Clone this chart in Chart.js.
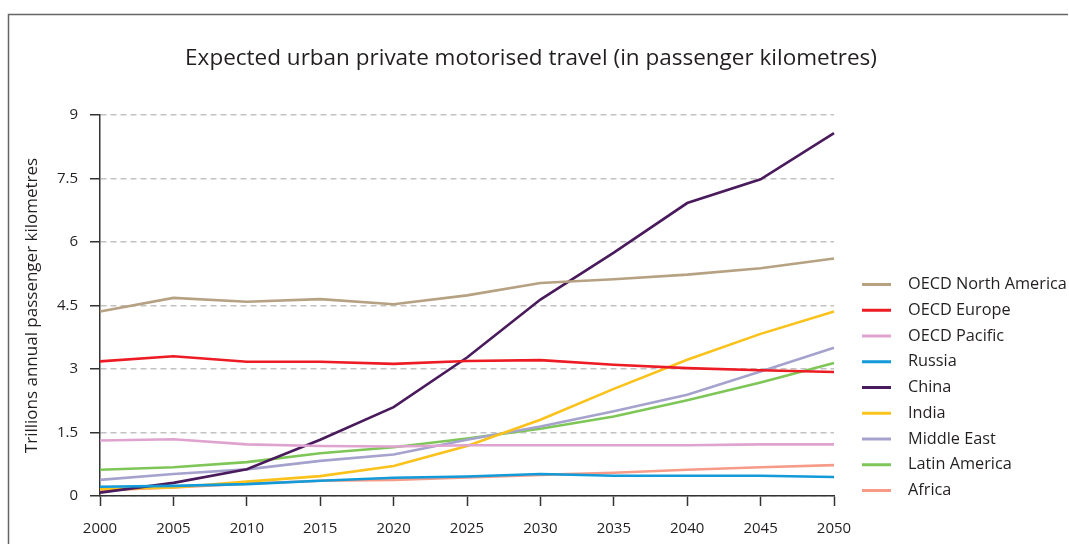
<!DOCTYPE html>
<html><head><meta charset="utf-8">
<script src="https://cdn.jsdelivr.net/npm/chart.js@4"></script>
<style>html,body{margin:0;padding:0;background:#fff;} canvas{display:block;}</style>
</head><body>
<canvas id="c" width="1069" height="544"></canvas>
<script>
// ---- data ----
const years = ['2000','2005','2010','2015','2020','2025','2030','2035','2040','2045','2050'];
const oecdNorthAmerica = [4.36, 4.68, 4.59, 4.65, 4.53, 4.74, 5.03, 5.12, 5.23, 5.38, 5.61];
const oecdEurope       = [3.18, 3.30, 3.17, 3.17, 3.12, 3.19, 3.21, 3.10, 3.02, 2.97, 2.93];
const oecdPacific      = [1.31, 1.34, 1.22, 1.18, 1.17, 1.20, 1.20, 1.20, 1.20, 1.22, 1.22];
const russia           = [0.22, 0.24, 0.28, 0.36, 0.43, 0.46, 0.52, 0.48, 0.48, 0.48, 0.45];
const china            = [0.08, 0.31, 0.63, 1.33, 2.10, 3.27, 4.64, 5.75, 6.92, 7.48, 8.57];
const india            = [0.16, 0.20, 0.34, 0.47, 0.71, 1.18, 1.80, 2.53, 3.22, 3.83, 4.36];
const middleEast       = [0.38, 0.52, 0.63, 0.83, 0.98, 1.33, 1.64, 2.00, 2.39, 2.94, 3.50];
const latinAmerica     = [0.62, 0.68, 0.80, 1.01, 1.15, 1.36, 1.59, 1.88, 2.26, 2.68, 3.14];
const africa           = [0.13, 0.20, 0.29, 0.36, 0.38, 0.44, 0.50, 0.55, 0.62, 0.68, 0.73];
const seriesNames = ['OECD North America','OECD Europe','OECD Pacific','Russia','China','India','Middle East','Latin America','Africa'];
const seriesValues = [oecdNorthAmerica, oecdEurope, oecdPacific, russia, china, india, middleEast, latinAmerica, africa];
const yTicks = [0, 1.5, 3, 4.5, 6, 7.5, 9];
const chartTitle = 'Expected urban private motorised travel (in passenger kilometres)';
const yAxisTitle = 'Trillions annual passenger kilometres';

// ---- styles ----
const palette = ['#b6a283','#ed1c24','#dea3cf','#129bd8','#4a1b5c','#fbc21b','#a5a3cd','#7dc657','#f59b87'];
const FONT = '"Open Sans", "Noto Sans", sans-serif';
const TEXT = '#231f20';

const framePlugin = {
  id: 'frame',
  beforeDraw(chart) {
    const ctx = chart.ctx;
    ctx.save();
    ctx.strokeStyle = '#666';
    ctx.lineWidth = 1.5;
    ctx.beginPath();
    ctx.moveTo(8.5, chart.height + 5);
    ctx.lineTo(8.5, 14.5);
    ctx.lineTo(1068, 14.5);
    ctx.stroke();
    ctx.restore();
  }
};

const legendPlugin = {
  id: 'sideLegend',
  afterDraw(chart) {
    const ctx = chart.ctx;
    const right = chart.chartArea.right;
    ctx.save();
    ctx.font = '16.3px ' + FONT;
    ctx.textBaseline = 'middle';
    ctx.textAlign = 'left';
    chart.data.datasets.forEach((ds, i) => {
      const y = 284.5 + i * 25.75;
      ctx.strokeStyle = ds.borderColor;
      ctx.lineWidth = 3;
      ctx.beginPath();
      ctx.moveTo(right + 28, y);
      ctx.lineTo(right + 57, y);
      ctx.stroke();
      ctx.fillStyle = TEXT;
      ctx.fillText(ds.label, right + 74, y);
    });
    ctx.restore();
  }
};

new Chart(document.getElementById('c'), {
  type: 'line',
  data: {
    labels: years,
    datasets: seriesNames.map((name, i) => ({
      label: name,
      data: seriesValues[i],
      borderColor: palette[i],
      backgroundColor: palette[i],
      borderWidth: 2.6,
      pointRadius: 0,
      tension: 0,
      fill: false
    }))
  },
  options: {
    responsive: false,
    animation: false,
    layout: { padding: { left: 0, right: 7, top: 0, bottom: 0 } },
    plugins: {
      legend: { display: false },
      tooltip: { enabled: false },
      title: {
        display: true,
        text: chartTitle,
        color: TEXT,
        font: { family: FONT, size: 22.5, weight: 'normal' },
        padding: { top: 45, bottom: 43 }
      }
    },
    scales: {
      x: {
        offset: false,
        grid: { drawOnChartArea: false, drawTicks: true, tickLength: 10, tickColor: '#333', tickWidth: 1.5 },
        border: { display: true, color: '#333', width: 1.5 },
        ticks: { color: TEXT, font: { family: FONT, size: 15 }, padding: 14, maxRotation: 0, autoSkip: false },
        afterFit(s) { s.height = 48; }
      },
      y: {
        min: 0, max: 9,
        afterBuildTicks(s) { s.ticks = yTicks.map(v => ({ value: v })); },
        grid: { color: '#c2c2c2', lineWidth: 1.5, drawTicks: true, tickLength: 10, tickColor: '#333', tickWidth: 1.5, tickBorderDash: [] },
        border: { display: true, color: '#333', width: 1.5, dash: [6, 4] },
        ticks: { color: TEXT, font: { family: FONT, size: 15 }, padding: 12 },
        title: { display: true, text: yAxisTitle, color: TEXT, font: { family: FONT, size: 17 }, padding: { top: 22, bottom: 0 } },
        afterFit(s) { s.width = 100; }
      },
      spacer: {
        position: 'right',
        display: true,
        grid: { display: false, drawTicks: false },
        border: { display: false },
        ticks: { display: false },
        afterFit(s) { s.width = 228; }
      }
    }
  },
  plugins: [framePlugin, legendPlugin]
});
</script>
</body></html>
